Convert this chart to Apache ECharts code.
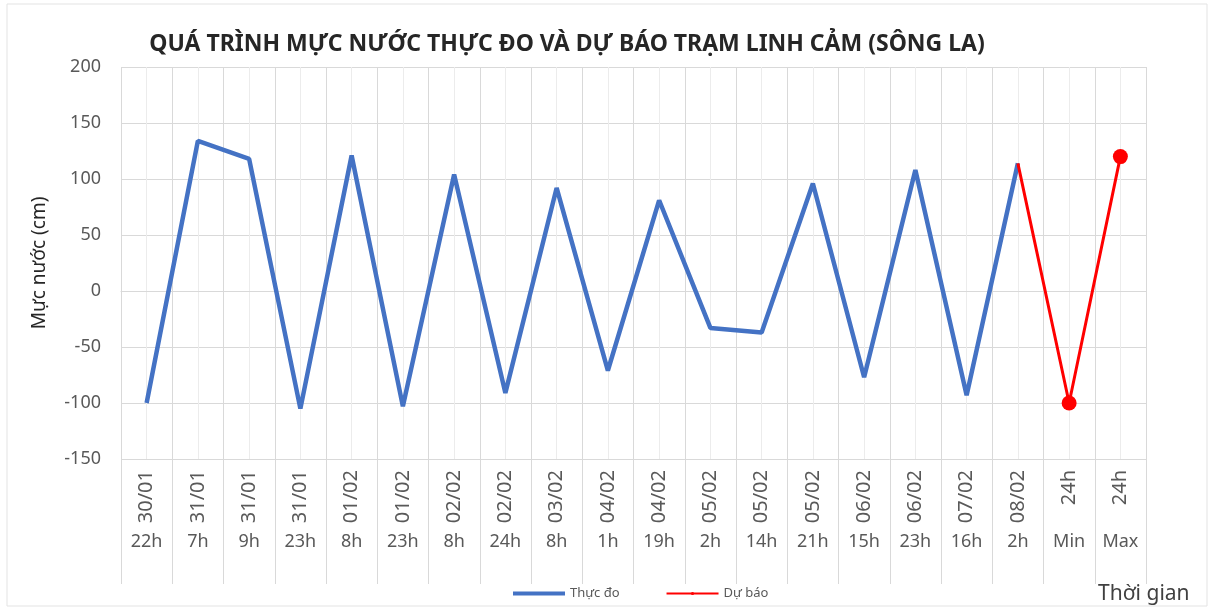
<!DOCTYPE html>
<html>
<head>
<meta charset="utf-8">
<script src="https://cdn.jsdelivr.net/npm/echarts@6/dist/echarts.min.js"></script>
<style>
  html, body { margin: 0; padding: 0; background: #fff; }
  #chart { width: 1214px; height: 610px; }
</style>
</head>
<body>
<div id="chart"></div>
<script>
// Ngày / giờ trên trục thời gian
const dateLabels = ['30/01', '31/01', '31/01', '31/01', '01/02', '01/02', '02/02', '02/02', '03/02', '04/02',
  '04/02', '05/02', '05/02', '05/02', '06/02', '06/02', '07/02', '08/02', '24h', '24h']
const hourLabels = ['22h', '7h', '9h', '23h', '8h', '23h', '8h', '24h', '8h', '1h',
  '19h', '2h', '14h', '21h', '15h', '23h', '16h', '2h', 'Min', 'Max']

// Mực nước thực đo (cm)
const measured = [-100, 134, 118, -105, 121, -103, 104, -91, 92, -71,
  81, -33, -37, 96, -77, 108, -93, 114, null, null]
// Mực nước dự báo (cm)
const forecast = [null, null, null, null, null, null, null, null, null, null,
  null, null, null, null, null, null, null, 114, -100, 120]

const yTicks = { min: -150, max: 200, interval: 50 }

const gridColor = '#d9d9d9'
const minorColor = '#ececec'
const textColor = '#595959'
const font = '"Noto Sans", "Open Sans", sans-serif'

// lưới dọc: ranh giới ô + đường giữa ô
const halfCells = []
for (let i = 0; i < dateLabels.length * 2; i++) halfCells.push('')

const chart = echarts.init(document.getElementById('chart'))

chart.setOption({
  animation: false,
  textStyle: { fontFamily: font },
  legend: {
    bottom: 5,
    left: 508,
    itemGap: 46,
    itemWidth: 52,
    itemHeight: 4,
    textStyle: { fontSize: 13, color: textColor },
    data: [
      { name: 'Thực đo', icon: 'rect' },
      { name: 'Dự báo' }
    ]
  },
  grid: [
    { left: 121, right: 68, top: 67, bottom: 151 },
    // ô nhãn dưới trục
    { left: 121, right: 68, top: 459, height: 125 }
  ],
  xAxis: [
    {
      type: 'category',
      data: dateLabels,
      boundaryGap: true,
      axisLine: { show: true, lineStyle: { color: gridColor, width: 1 } },
      axisTick: { show: false },
      splitLine: { show: false },
      axisLabel: { interval: 0, rotate: 90, margin: 11, fontSize: 20, color: textColor }
    },
    {
      type: 'category',
      data: halfCells,
      position: 'top',
      boundaryGap: true,
      axisLine: { show: false },
      axisTick: { show: false },
      axisLabel: { show: false },
      splitLine: { show: true, interval: 0, lineStyle: { color: [gridColor, minorColor] } }
    },
    {
      type: 'category',
      gridIndex: 1,
      data: hourLabels,
      position: 'top',
      boundaryGap: true,
      axisLine: { show: false },
      axisTick: { show: false },
      axisLabel: { interval: 0, inside: true, margin: 74, fontSize: 18, color: textColor },
      splitLine: { show: true, interval: 0, lineStyle: { color: gridColor } }
    }
  ],
  yAxis: [
    {
      type: 'value',
      min: yTicks.min,
      max: yTicks.max,
      interval: yTicks.interval,
      name: 'Mực nước (cm)',
      nameLocation: 'middle',
      nameRotate: 90,
      nameGap: 72,
      nameTextStyle: { fontSize: 19, color: '#262626' },
      axisLine: { show: false },
      axisTick: { show: false },
      axisLabel: { fontSize: 18, color: textColor, margin: 20 },
      splitLine: { lineStyle: { color: gridColor } }
    },
    { type: 'value', gridIndex: 1, show: false, splitLine: { show: false } }
  ],
  graphic: [
    {
      type: 'text',
      x: 567,
      y: 44,
      style: {
        text: 'QUÁ TRÌNH MỰC NƯỚC THỰC ĐO VÀ DỰ BÁO TRẠM LINH CẢM (SÔNG LA)',
        fontSize: 23,
        fontWeight: 'bold',
        fill: '#262626',
        fontFamily: font,
        align: 'center',
        verticalAlign: 'middle'
      }
    },
    {
      type: 'text',
      left: 1098,
      top: 584,
      style: { text: 'Thời gian', fontSize: 21, fill: '#404040', fontFamily: font }
    },
    {
      type: 'rect',
      shape: { x: 7, y: 4, width: 1200, height: 602 },
      style: { fill: 'none', stroke: '#e3e3e3', lineWidth: 1 },
      silent: true
    }
  ],
  series: [
    {
      name: 'Thực đo',
      type: 'line',
      xAxisIndex: 0,
      yAxisIndex: 0,
      data: measured,
      showSymbol: false,
      symbol: 'none',
      lineStyle: { color: '#4472C4', width: 4.5 },
      itemStyle: { color: '#4472C4' },
      z: 3
    },
    {
      name: 'Dự báo',
      type: 'line',
      xAxisIndex: 0,
      yAxisIndex: 0,
      data: forecast.map((v, i) => (v !== null && i === 17 ? { value: v, symbol: 'none' } : v)),
      symbol: 'circle',
      symbolSize: 15,
      lineStyle: { color: '#FF0000', width: 3 },
      itemStyle: { color: '#FF0000' },
      z: 4
    }
  ]
})
</script>
</body>
</html>
